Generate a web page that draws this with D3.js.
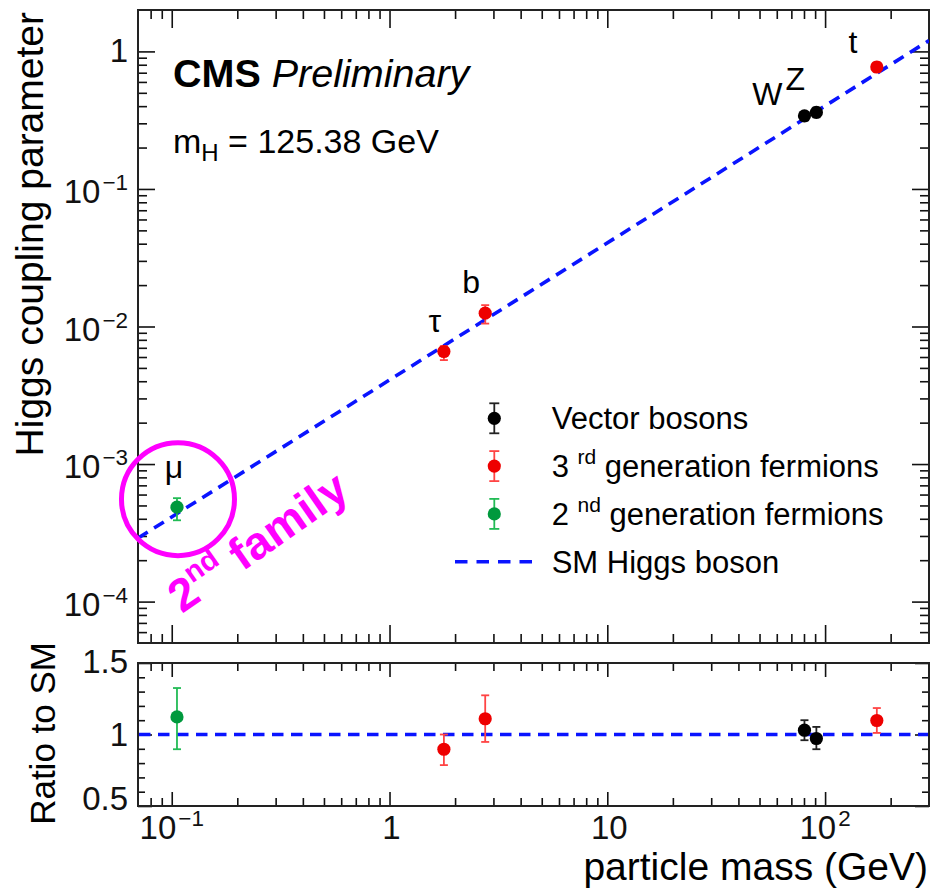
<!DOCTYPE html>
<html>
<head>
<meta charset="utf-8">
<script src="https://cdn.jsdelivr.net/npm/d3@7"></script>
<style>
  body { margin: 0; background: #fff; }
  svg { display: block; font-family: "Liberation Sans", Arial, sans-serif; }
</style>
</head>
<body>
<div id="chart"></div>
<script>
// data
var particles = ["μ", "τ", "b", "W", "Z", "t"];
var groups = ["gen2", "gen3", "gen3", "vector", "vector", "gen3"];
var masses = [0.1057, 1.777, 2.75, 80.4, 91.2, 172.8];
var coupling = [4.86e-4, 6.58e-3, 1.25e-2, 0.340, 0.360, 0.770];
var couplingHi = [5.65e-4, 7.2e-3, 1.43e-2, 0.359, 0.390, 0.830];
var couplingLo = [3.9e-4, 5.7e-3, 1.05e-2, 0.314, 0.332, 0.709];
var ratio = [1.123, 0.897, 1.11, 1.03, 0.972, 1.098];
var ratioHi = [1.325, 1.0, 1.274, 1.10, 1.053, 1.185];
var ratioLo = [0.897, 0.786, 0.948, 0.96, 0.897, 1.011];
var smLine = [{m: 0.07, k: 2.89e-4}, {m: 300, k: 1.2}];

var legendKeys = ["vector", "gen3", "gen2"];
var legendMain = ["Vector bosons", "3 ", "2 "];
var legendSup = ["", "rd", "nd"];
var legendRest = ["", " generation fermions", " generation fermions"];

var xMajor = [0.1, 1, 10, 100];
var xMajorBase = ["10", "1", "10", "10"];
var xMajorExp = ["−1", "", "", "2"];
var yMajor = [1e-4, 1e-3, 1e-2, 1e-1, 1];
var yMajorBase = ["10", "10", "10", "10", "1"];
var yMajorExp = ["−4", "−3", "−2", "−1", ""];
var rMajor = [0.5, 1, 1.5];
var rLabels = ["0.5", "1", "1.5"];

var colors = {vector: "#000000", gen3: "#ee0000", gen2: "#00993d"};
var barColors = {vector: "#222222", gen3: "#ff4444", gen2: "#22bb55"};

var W = 933, H = 891;
var left = 138, right = 929, mainTop = 10, mainBottom = 643, ratTop = 663, ratBottom = 806;

var svg = d3.select("#chart").append("svg")
    .attr("width", W)
    .attr("height", H);

var x = d3.scaleLog().domain([0.07, 300]).range([left, right]);
var y = d3.scaleLog().domain([5e-5, 2]).range([mainBottom, mainTop]);
var r = d3.scaleLinear().domain([0.5, 1.5]).range([ratBottom, ratTop]);

// minor ticks for the log axes
function logMinors(domain) {
    var out = [];
    for (var e = -6; e <= 3; e++) {
        for (var k = 2; k <= 9; k++) {
            var v = k * Math.pow(10, e);
            if (v > domain[0] && v < domain[1]) out.push(v);
        }
    }
    return out;
}
var xMinor = logMinors(x.domain());
var yMinor = logMinors(y.domain());
var rMinor = d3.range(0.6, 1.45, 0.1).filter(function(v) { return Math.abs(v - 1) > 0.01; });

function tickAxis(axisFn, scale, values, size, tx, ty) {
    var g = svg.append("g")
        .attr("transform", "translate(" + tx + "," + ty + ")")
        .call(axisFn(scale).tickValues(values).tickSize(size).tickFormat(""));
    g.select(".domain").remove();
    g.selectAll(".tick line").attr("stroke", "#111").attr("stroke-width", 1.6);
    return g;
}

// main panel ticks
tickAxis(d3.axisBottom, x, xMajor, -18, 0, mainBottom);
tickAxis(d3.axisBottom, x, xMinor, -9, 0, mainBottom);
tickAxis(d3.axisTop, x, xMajor, -18, 0, mainTop);
tickAxis(d3.axisTop, x, xMinor, -9, 0, mainTop);
tickAxis(d3.axisLeft, y, yMajor, -17, left, 0);
tickAxis(d3.axisLeft, y, yMinor, -9, left, 0);
tickAxis(d3.axisRight, y, yMajor, -17, right, 0);
tickAxis(d3.axisRight, y, yMinor, -9, right, 0);

// ratio panel ticks
tickAxis(d3.axisBottom, x, xMajor, -14, 0, ratBottom);
tickAxis(d3.axisBottom, x, xMinor, -8, 0, ratBottom);
tickAxis(d3.axisTop, x, xMajor, -14, 0, ratTop);
tickAxis(d3.axisTop, x, xMinor, -8, 0, ratTop);
tickAxis(d3.axisLeft, r, rMajor, -14, left, 0);
tickAxis(d3.axisLeft, r, rMinor, -7, left, 0);
tickAxis(d3.axisRight, r, rMajor, -14, right, 0);
tickAxis(d3.axisRight, r, rMinor, -7, right, 0);

// frames
[[mainTop, mainBottom], [ratTop, ratBottom]].forEach(function(p) {
    svg.append("rect")
        .attr("x", left).attr("y", p[0])
        .attr("width", right - left).attr("height", p[1] - p[0])
        .attr("fill", "none").attr("stroke", "#222").attr("stroke-width", 2);
});

// tick labels
function supLabel(xp, yp, base, exp, anchor, size) {
    var t = svg.append("text")
        .attr("x", xp).attr("y", yp)
        .attr("text-anchor", anchor)
        .attr("font-size", size)
        .attr("fill", "#111");
    t.append("tspan").text(base);
    if (exp) {
        t.append("tspan").attr("font-size", size * 0.68).attr("dy", -13).attr("dx", 2).text(exp);
    }
    return t;
}
yMajor.forEach(function(v, i) {
    supLabel(128, y(v) + (yMajorExp[i] ? 14 : 11), yMajorBase[i], yMajorExp[i], "end", 33);
});
xMajor.forEach(function(v, i) {
    supLabel(x(v) + (xMajorExp[i] ? 0 : 2), 839, xMajorBase[i], xMajorExp[i], "middle", 33);
});
var rDy = [4, 11, 10];
rMajor.forEach(function(v, i) {
    svg.append("text")
        .attr("x", 128).attr("y", r(v) + rDy[i])
        .attr("text-anchor", "end")
        .attr("font-size", 33)
        .attr("fill", "#111")
        .text(rLabels[i]);
});

// axis titles
svg.append("text")
    .attr("transform", "translate(43,12) rotate(-90)")
    .attr("text-anchor", "end")
    .attr("font-size", 39)
    .text("Higgs coupling parameter");
svg.append("text")
    .attr("transform", "translate(55,642) rotate(-90)")
    .attr("text-anchor", "end")
    .attr("font-size", 35)
    .text("Ratio to SM");
svg.append("text")
    .attr("x", 928).attr("y", 880)
    .attr("text-anchor", "end")
    .attr("font-size", 39)
    .text("particle mass (GeV)");

// clip for the dashed lines
svg.append("clipPath").attr("id", "clipMain")
    .append("rect").attr("x", left).attr("y", mainTop)
    .attr("width", right - left).attr("height", mainBottom - mainTop);

svg.append("path")
    .datum(smLine)
    .attr("clip-path", "url(#clipMain)")
    .attr("d", d3.line().x(function(d) { return x(d.m); }).y(function(d) { return y(d.k); }))
    .attr("fill", "none")
    .attr("stroke", "#0a14ff")
    .attr("stroke-width", 3.6)
    .attr("stroke-dasharray", "11.5,7.5");

svg.append("line")
    .attr("x1", left + 1).attr("x2", right - 1)
    .attr("y1", r(1)).attr("y2", r(1))
    .attr("stroke", "#0a14ff")
    .attr("stroke-width", 3.6)
    .attr("stroke-dasharray", "11.5,7.5");

// points with error bars
function drawPoints(scale, val, hi, lo) {
    particles.forEach(function(p, i) {
        var cx = x(masses[i]);
        var g = svg.append("g");
        var bc = barColors[groups[i]];
        g.append("line")
            .attr("x1", cx).attr("x2", cx)
            .attr("y1", scale(hi[i])).attr("y2", scale(lo[i]))
            .attr("stroke", bc).attr("stroke-width", 1.8);
        [hi[i], lo[i]].forEach(function(v) {
            g.append("line")
                .attr("x1", cx - 4).attr("x2", cx + 4)
                .attr("y1", scale(v)).attr("y2", scale(v))
                .attr("stroke", bc).attr("stroke-width", 1.8);
        });
        g.append("circle")
            .attr("cx", cx).attr("cy", scale(val[i]))
            .attr("r", 6.6)
            .attr("fill", colors[groups[i]]);
    });
}
drawPoints(y, coupling, couplingHi, couplingLo);
drawPoints(r, ratio, ratioHi, ratioLo);

// particle labels
var labelOffsets = [[-3, -29], [-9, -20], [-14, -20], [-37, -11], [-21, -22], [-24, -14]];
particles.forEach(function(p, i) {
    svg.append("text")
        .attr("x", x(masses[i]) + labelOffsets[i][0])
        .attr("y", y(coupling[i]) + labelOffsets[i][1])
        .attr("text-anchor", "middle")
        .attr("font-size", 32)
        .text(p);
});

// CMS label
var cms = svg.append("text").attr("x", 173).attr("y", 87).attr("font-size", 39.5);
cms.append("tspan").attr("font-weight", "bold").text("CMS");
cms.append("tspan").attr("font-style", "italic").text(" Preliminary");

var mh = svg.append("text").attr("x", 173).attr("y", 153).attr("font-size", 34);
mh.append("tspan").text("m");
mh.append("tspan").attr("font-size", 24).attr("dy", 8).text("H");
mh.append("tspan").attr("dy", -8).text(" = 125.38 GeV");

// legend
var legX = 494.3, legTextX = 551.7, legY0 = 418.3, legStep = 47.8;
legendKeys.forEach(function(k, i) {
    var ly = legY0 + i * legStep;
    svg.append("line")
        .attr("x1", legX).attr("x2", legX)
        .attr("y1", ly - 15).attr("y2", ly + 15)
        .attr("stroke", barColors[k]).attr("stroke-width", 1.8);
    [ly - 15, ly + 15].forEach(function(v) {
        svg.append("line")
            .attr("x1", legX - 5).attr("x2", legX + 5)
            .attr("y1", v).attr("y2", v)
            .attr("stroke", barColors[k]).attr("stroke-width", 1.8);
    });
    svg.append("circle").attr("cx", legX).attr("cy", ly).attr("r", 6.6).attr("fill", colors[k]);
    var t = svg.append("text").attr("x", legTextX).attr("y", ly + 11).attr("font-size", 31);
    t.append("tspan").text(legendMain[i]);
    if (legendSup[i]) {
        t.append("tspan").attr("font-size", 21).attr("dy", -13).text(legendSup[i]);
        t.append("tspan").attr("dy", 13).text(legendRest[i]);
    }
});
var smY = legY0 + 3 * legStep;
svg.append("line")
    .attr("x1", 455).attr("x2", 535)
    .attr("y1", smY).attr("y2", smY)
    .attr("stroke", "#0a14ff").attr("stroke-width", 3.6)
    .attr("stroke-dasharray", "12.5,9");
svg.append("text").attr("x", legTextX).attr("y", smY + 11).attr("font-size", 31).text("SM Higgs boson");

// magenta annotation around the muon
var muX = x(masses[0]), muY = y(coupling[0]);
svg.append("circle")
    .attr("cx", muX + 1).attr("cy", muY - 8)
    .attr("r", 56.5)
    .attr("fill", "none")
    .attr("stroke", "#ff00ff")
    .attr("stroke-width", 5);
var fam = svg.append("text")
    .attr("transform", "translate(182,614) rotate(-35)")
    .attr("font-size", 46)
    .attr("font-weight", "bold")
    .attr("fill", "#ff00ff");
fam.append("tspan").text("2");
fam.append("tspan").attr("font-size", 29).attr("dy", -19).text("nd");
fam.append("tspan").attr("dy", 19).text(" family");
</script>
</body>
</html>
